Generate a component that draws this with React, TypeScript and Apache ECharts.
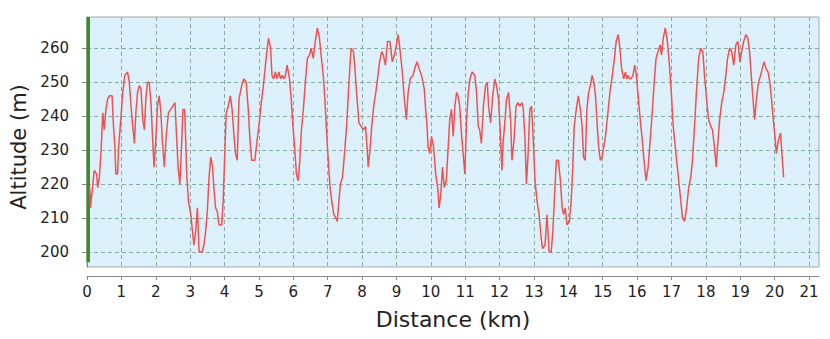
import React, { useEffect, useRef } from "react";
import * as echarts from "echarts";

const distanceKm: number[] = [
  0.07, 0.09, 0.1, 0.15, 0.21, 0.28, 0.31, 0.36, 0.41, 0.46, 0.5, 0.55, 0.6, 0.65, 0.73, 0.76, 0.81, 0.84, 0.89, 0.92, 0.99,
  1.04, 1.1, 1.18, 1.23, 1.28, 1.33, 1.38, 1.42, 1.47, 1.52, 1.57, 1.62, 1.67, 1.71, 1.76, 1.81, 1.86, 1.91, 1.95,
  2.0, 2.05, 2.1, 2.15, 2.19, 2.25, 2.31, 2.37, 2.43, 2.5, 2.56, 2.6, 2.65, 2.7, 2.75, 2.79, 2.84, 2.87, 2.9, 2.95,
  3.02, 3.06, 3.11, 3.16, 3.21, 3.26, 3.35, 3.4, 3.45, 3.5, 3.55, 3.6, 3.65, 3.69, 3.74, 3.79, 3.84, 3.92, 3.96,
  4.0, 4.05, 4.11, 4.17, 4.22, 4.27, 4.32, 4.37, 4.42, 4.5, 4.56, 4.63, 4.69, 4.74, 4.79, 4.88, 4.95,
  5.02, 5.07, 5.13, 5.19, 5.23, 5.28, 5.34, 5.38, 5.43, 5.48, 5.53, 5.58, 5.63, 5.68, 5.73, 5.77, 5.82, 5.89, 5.94, 5.99,
  6.04, 6.09, 6.14, 6.19, 6.23, 6.3, 6.35, 6.41, 6.47, 6.52, 6.58, 6.64, 6.7, 6.76, 6.81, 6.88, 6.93, 6.98,
  7.03, 7.07, 7.12, 7.18, 7.24, 7.28, 7.31, 7.37, 7.43, 7.49, 7.55, 7.62, 7.68, 7.75, 7.8, 7.84, 7.91, 7.97,
  8.04, 8.1, 8.15, 8.18, 8.23, 8.28, 8.34, 8.4, 8.45, 8.51, 8.57, 8.62, 8.68, 8.74, 8.81, 8.88, 8.94,
  9.0, 9.05, 9.11, 9.17, 9.23, 9.29, 9.34, 9.4, 9.48, 9.56, 9.6, 9.66, 9.73, 9.81, 9.85, 9.89, 9.92, 9.97,
  10.02, 10.08, 10.14, 10.2, 10.24, 10.29, 10.34, 10.39, 10.45, 10.5, 10.55, 10.6, 10.65, 10.7, 10.75, 10.79, 10.84, 10.89, 10.94, 10.99,
  11.04, 11.09, 11.14, 11.2, 11.28, 11.33, 11.38, 11.42, 11.47, 11.53, 11.59, 11.64, 11.68, 11.74, 11.8, 11.86, 11.91, 11.97,
  12.03, 12.07, 12.1, 12.16, 12.2, 12.26, 12.32, 12.36, 12.42, 12.48, 12.53, 12.59, 12.65, 12.69, 12.74, 12.78, 12.83, 12.88, 12.93, 12.98,
  13.03, 13.09, 13.15, 13.21, 13.25, 13.32, 13.38, 13.44, 13.5, 13.55, 13.6, 13.65, 13.71, 13.77, 13.82, 13.86, 13.91, 13.96,
  14.03, 14.08, 14.13, 14.17, 14.23, 14.29, 14.35, 14.4, 14.44, 14.49, 14.54, 14.59, 14.64, 14.69, 14.74, 14.79, 14.83, 14.88, 14.93, 14.98,
  15.03, 15.08, 15.12, 15.17, 15.22, 15.28, 15.34, 15.39, 15.45, 15.5, 15.55, 15.61, 15.66, 15.7, 15.74, 15.78, 15.82, 15.88, 15.93, 15.98,
  16.03, 16.09, 16.15, 16.2, 16.26, 16.32, 16.38, 16.44, 16.49, 16.55, 16.61, 16.67, 16.71, 16.76, 16.82, 16.88, 16.94,
  17.0, 17.05, 17.11, 17.17, 17.23, 17.29, 17.32, 17.38, 17.44, 17.5, 17.56, 17.61, 17.67, 17.73, 17.79, 17.85, 17.91, 17.96,
  18.02, 18.08, 18.14, 18.19, 18.25, 18.3, 18.34, 18.4, 18.46, 18.52, 18.58, 18.63, 18.69, 18.75, 18.81, 18.87, 18.93, 18.99,
  19.04, 19.1, 19.16, 19.22, 19.27, 19.32, 19.37, 19.42, 19.47, 19.53, 19.59, 19.64, 19.69, 19.75, 19.81, 19.86, 19.91, 19.95,
  20.0, 20.05, 20.11, 20.17, 20.22, 20.26,
];

const altitudeM: number[] = [
  219, 217, 213, 218, 224, 223, 219, 222, 230, 241, 236, 242, 245, 246, 246, 239, 231, 223, 223, 231, 240,
  247, 252, 253, 250, 243, 237, 232, 241, 247, 249, 248, 239, 236, 245, 250, 250, 244, 233, 225,
  233, 243, 246, 241, 233, 225, 235, 241, 242, 243, 244, 235, 225, 220, 231, 242, 242, 233, 223, 215,
  211, 207, 202, 206, 213, 200, 200, 202, 206, 212, 222, 228, 225, 219, 213, 212, 208, 208, 215,
  227, 241, 243, 246, 242, 235, 229, 227, 245, 249, 251, 250, 242, 233, 227, 227, 233,
  239, 244, 249, 255, 259, 263, 260, 252, 251, 253, 251, 253, 251, 252, 251, 252, 255, 251, 245, 237,
  231, 223, 221, 227, 235, 243, 250, 257, 258, 260, 257, 262, 266, 263, 258, 251, 243, 233,
  225, 219, 215, 211, 210, 209, 213, 220, 222, 229, 237, 250, 260, 259, 253, 247, 238, 237,
  236, 237, 230, 225, 230, 237, 243, 247, 251, 256, 259, 258, 255, 262, 262, 256, 258,
  261, 264, 259, 253, 245, 239, 247, 251, 252, 255, 256, 254, 252, 248, 242, 237, 231, 229,
  234, 231, 223, 219, 213, 217, 225, 219, 221, 230, 239, 242, 234, 243, 247, 246, 243, 235, 229, 223,
  239, 247, 251, 253, 252, 247, 237, 236, 232, 243, 249, 250, 243, 238, 246, 251, 249, 245,
  233, 224, 232, 239, 245, 247, 239, 227, 233, 243, 244, 243, 244, 242, 233, 220, 229, 242, 243, 233,
  221, 215, 211, 204, 201, 202, 211, 200, 200, 206, 217, 227, 227, 221, 213, 211, 213, 208,
  209, 215, 225, 237, 242, 246, 242, 237, 228, 227, 242, 247, 249, 252, 250, 246, 239, 231, 227, 228,
  231, 234, 238, 243, 248, 252, 257, 262, 264, 260, 254, 251, 253, 251, 252, 251, 251, 252, 255, 252,
  246, 239, 233, 227, 221, 225, 233, 241, 249, 257, 259, 261, 258, 263, 266, 262, 255,
  246, 237, 231, 225, 219, 213, 210, 209, 213, 219, 222, 227, 237, 248, 257, 260, 259, 252,
  245, 239, 237, 236, 231, 225, 231, 239, 244, 247, 252, 257, 260, 259, 255, 261, 262, 256,
  259, 262, 264, 263, 259, 252, 245, 239, 245, 250, 252, 254, 256, 254, 253, 250, 245, 240,
  235, 229, 233, 235, 228, 222,
];

const xTicks: number[] = [0, 1, 2, 3, 4, 5, 6, 7, 8, 9, 10, 11, 12, 13, 14, 15, 16, 17, 18, 19, 20, 21];
const yTicks: number[] = [200, 210, 220, 230, 240, 250, 260];
const markerX = 0.035;
const markerRange: number[] = [197, 269.2];

const FONT = "DejaVu Sans";

export default function App() {
  const ref = useRef<HTMLDivElement>(null);

  useEffect(() => {
    if (!ref.current) return;
    const chart = echarts.init(ref.current, undefined, { renderer: "svg" });
    const profile = distanceKm.map((d, i) => [d, altitudeM[i]]);
    const gridLine = { show: true, lineStyle: { color: "#86ad9f", type: [4, 3] as any, width: 1 } };
    chart.setOption({
      animation: false,
      backgroundColor: "#ffffff",
      grid: {
        left: 84,
        right: 11,
        top: 17,
        bottom: 72,
        show: true,
        backgroundColor: "#dbf0fb",
        borderColor: "#a8a8a8",
        borderWidth: 1,
      },
      xAxis: {
        type: "value",
        min: 0,
        max: 21.29,
        offset: 9,
        name: "Distance (km)",
        nameLocation: "middle",
        nameGap: 32,
        nameTextStyle: { fontFamily: FONT, fontSize: 22, color: "#222" },
        axisLine: { show: true, onZero: false, lineStyle: { color: "#888", width: 1 } },
        axisTick: { show: true, length: 4, customValues: xTicks, lineStyle: { color: "#888" } },
        axisLabel: { customValues: xTicks, margin: 8, fontFamily: FONT, fontSize: 15, color: "#222" },
        splitLine: gridLine,
      },
      yAxis: {
        type: "value",
        min: 195.6,
        max: 269.2,
        offset: 8,
        name: "Altitude (m)",
        nameLocation: "middle",
        nameGap: 50,
        nameRotate: 90,
        nameTextStyle: { fontFamily: FONT, fontSize: 21, color: "#222", padding: [0, 10, 0, 0] },
        axisLine: { show: true, lineStyle: { color: "#888", width: 1 } },
        axisTick: { show: true, length: 5, customValues: yTicks, lineStyle: { color: "#888" } },
        axisLabel: { customValues: yTicks, margin: 10, fontFamily: FONT, fontSize: 15, color: "#222" },
        splitLine: gridLine,
      },
      series: [
        {
          type: "line",
          data: [
            [markerX, markerRange[0]],
            [markerX, markerRange[1]],
          ],
          symbol: "none",
          silent: true,
          lineStyle: { color: "#3b8a2e", width: 3.5 },
          z: 3,
        },
        {
          type: "line",
          data: profile,
          symbol: "none",
          lineStyle: { color: "#f05252", width: 1.5 },
          z: 4,
        },
      ],
    });
    return () => chart.dispose();
  }, []);

  return <div ref={ref} style={{ width: 830, height: 339, position: "absolute", left: 0, top: 0 }} />;
}
